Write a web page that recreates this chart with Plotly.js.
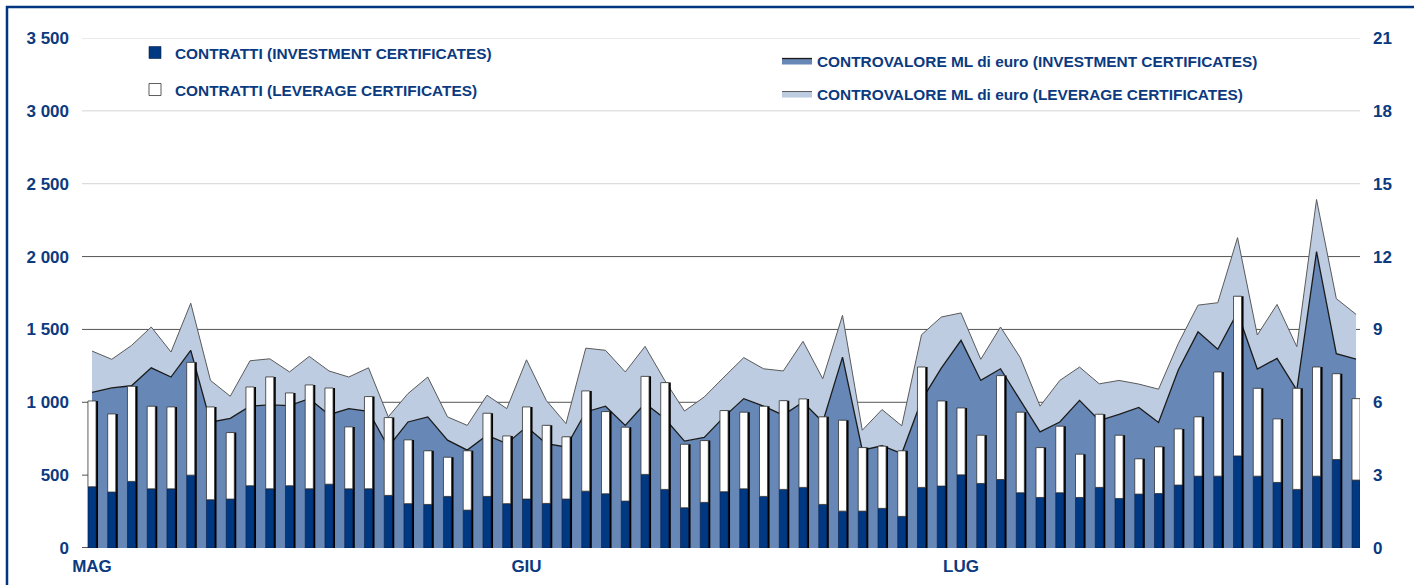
<!DOCTYPE html>
<html>
<head>
<meta charset="utf-8">
<script src="https://cdn.plot.ly/plotly-3.0.1.min.js"></script>
<style>
  html, body { margin: 0; padding: 0; background: #ffffff; }
  #chart { width: 1414px; height: 585px; }
</style>
</head>
<body>
<div id="chart"></div>
<script>
// ---- DATA ----
const monthLabels = ['MAG', 'GIU', 'LUG'];
const monthTickPos = [0, 22, 44];

// Contratti - investment certificates (left axis)
const contrattiInvestment = [
  420, 384, 457, 406, 406, 500, 331, 336, 427, 406, 427, 406, 438, 406, 406, 361, 304, 299, 354, 260, 354, 304,
  336, 306, 336, 390, 372, 322, 505, 402, 276, 313, 386, 406, 354, 402, 416, 299, 253, 253, 272, 217, 416, 425,
  502, 443, 470, 379, 347, 379, 347, 416, 340, 370, 374, 432, 493, 493, 632, 493, 450, 402, 493, 607, 466
];
// Contratti - leverage certificates (left axis, stacked on investment)
const contrattiLeverage = [
  589, 536, 653, 567, 562, 774, 637, 456, 678, 768, 637, 713, 660, 425, 633, 534, 438, 368, 269, 407, 571, 465,
  632, 536, 427, 688, 564, 507, 673, 733, 436, 424, 557, 526, 619, 609, 607, 601, 624, 436, 427, 450, 826, 584,
  459, 331, 713, 553, 342, 457, 297, 502, 434, 242, 320, 385, 407, 715, 1096, 603, 436, 694, 749, 589, 559
];
// Controvalore ML di euro - investment certificates (right axis)
const controvaloreInvestment = [
  6.41, 6.59, 6.68, 7.42, 7.04, 8.14, 5.18, 5.34, 5.84, 5.89, 5.86, 6.15, 5.49, 5.74, 5.63, 4.16, 5.19, 5.40, 4.44, 4.03, 4.64, 4.30,
  4.99, 4.30, 4.16, 5.60, 5.84, 5.05, 5.95, 5.33, 4.40, 4.55, 5.40, 6.15, 5.84, 5.47, 6.01, 5.19, 7.86, 4.03, 4.21, 3.89, 6.08, 7.41,
  8.55, 6.90, 7.38, 6.08, 4.78, 5.19, 6.08, 5.25, 5.50, 5.79, 5.17, 7.33, 8.90, 8.18, 9.70, 7.37, 7.81, 6.50, 12.20, 8.00, 7.78
];
// Controvalore ML di euro - leverage certificates (right axis, stacked)
const controvaloreLeverage = [
  1.70, 1.18, 1.66, 1.68, 1.03, 1.94, 1.72, 0.91, 1.87, 1.90, 1.39, 1.74, 1.80, 1.30, 1.79, 1.24, 1.17, 1.64, 0.96, 1.02, 1.65, 1.44,
  2.76, 1.78, 0.96, 2.63, 2.30, 2.20, 2.35, 1.57, 1.24, 1.67, 1.64, 1.69, 1.54, 1.82, 2.50, 1.78, 1.72, 0.82, 1.49, 1.14, 2.70, 2.10,
  1.13, 0.87, 1.72, 1.76, 1.06, 1.71, 1.37, 1.51, 1.40, 0.96, 1.37, 1.09, 1.10, 1.92, 3.08, 1.40, 2.22, 1.79, 2.15, 2.27, 1.84
];

const leftTickVals = [0, 500, 1000, 1500, 2000, 2500, 3000, 3500];
const leftTickText = ['0', '500', '1 000', '1 500', '2 000', '2 500', '3 000', '3 500'];
const rightTickVals = [0, 3, 6, 9, 12, 15, 18, 21];
const rightTickText = ['0', '3', '6', '9', '12', '15', '18', '21'];

const seriesNames = [
  'CONTRATTI (INVESTMENT CERTIFICATES)',
  'CONTRATTI (LEVERAGE CERTIFICATES)',
  'CONTROVALORE ML di euro (INVESTMENT CERTIFICATES)',
  'CONTROVALORE ML di euro (LEVERAGE CERTIFICATES)'
];

// ---- BUILD ----
const xs = contrattiInvestment.map((_, i) => i);
const contrattiTotal = contrattiInvestment.map((v, i) => v + contrattiLeverage[i]);

const navy = '#003882';
const textBlue = '#0b3a80';
const barW = 0.41;

const traces = [
  // stacked areas on main axis (right side, drawn below the bars)
  {
    type: 'scatter', mode: 'lines', x: xs, y: controvaloreInvestment, stackgroup: 'cv',
    name: seriesNames[2], legend: 'legend2', legendgroup: 'a1',
    line: { color: '#1a1a1a', width: 1.3 }, fillcolor: '#6788b6', hoverinfo: 'y'
  },
  {
    type: 'scatter', mode: 'lines', x: xs, y: controvaloreLeverage, stackgroup: 'cv',
    name: seriesNames[3], legend: 'legend2', legendgroup: 'a2',
    line: { color: '#5a5a5a', width: 1 }, fillcolor: '#bdcce0', hoverinfo: 'y'
  },
  // bar shadow
  {
    type: 'bar', x: xs, y: contrattiTotal, yaxis: 'y2', width: barW, offset: -barW / 2 + 0.1,
    marker: { color: '#000000', line: { width: 0 } }, showlegend: false, hoverinfo: 'skip'
  },
  {
    type: 'bar', x: xs, y: contrattiInvestment, yaxis: 'y2', width: barW, offset: -barW / 2,
    name: seriesNames[0], legend: 'legend', legendgroup: 'b1',
    marker: { color: navy, line: { color: '#0a1f44', width: 0.6 } }
  },
  {
    type: 'bar', x: xs, y: contrattiLeverage, base: contrattiInvestment, yaxis: 'y2', width: barW, offset: -barW / 2,
    name: seriesNames[1], legend: 'legend', legendgroup: 'b2',
    marker: { color: '#ffffff', line: { color: '#333333', width: 0.8 } }
  }
];

const shapes = leftTickVals.map(v => ({
  type: 'line', xref: 'paper', yref: 'y2', x0: 0, x1: 1, y0: v, y1: v, layer: 'below',
  line: { color: v === 0 ? '#222222' : (v > 2000 ? '#d4d4d4' : '#555555'), width: v === 0 ? 1.6 : 1 }
}));
// outer frame (left & top edges)
shapes.push({
  type: 'rect', xref: 'paper', yref: 'paper',
  x0: (7 - 82) / 1278, x1: 1.2, y0: -0.2, y1: 1 + (38 - 7) / 510,
  line: { color: '#003580', width: 2.5 }, fillcolor: 'rgba(0,0,0,0)', layer: 'above'
});

const tickFont = { family: 'Liberation Sans, Arial, sans-serif', size: 17, color: textBlue, weight: 'bold' };
const legendFont = { family: 'Liberation Sans, Arial, sans-serif', size: 15.4, color: textBlue, weight: 'bold' };

const layout = {
  width: 1414, height: 585,
  margin: { l: 82, r: 54, t: 38, b: 37 },
  paper_bgcolor: '#ffffff', plot_bgcolor: 'rgba(0,0,0,0)',
  barmode: 'overlay',
  showlegend: true,
  xaxis: {
    range: [-0.506, 64.2], tickvals: monthTickPos, ticktext: monthLabels,
    showgrid: false, zeroline: false, showline: false, ticks: '',
    tickfont: tickFont, ticklabelstandoff: 6
  },
  yaxis: {
    side: 'right', range: [0, 21], tickvals: rightTickVals, ticktext: rightTickText,
    showgrid: false, zeroline: false, showline: false, ticks: '',
    tickfont: tickFont, ticklabelstandoff: 12
  },
  yaxis2: {
    overlaying: 'y', side: 'left', range: [0, 3500], tickvals: leftTickVals, ticktext: leftTickText,
    showgrid: false, zeroline: false, showline: false, ticks: '',
    tickfont: tickFont, ticklabelstandoff: 12
  },
  legend: {
    x: (135 - 82) / 1278, y: 1 - (36 - 38) / 510, xanchor: 'left', yanchor: 'top',
    bgcolor: 'rgba(0,0,0,0)', font: legendFont, traceorder: 'grouped', tracegroupgap: 14
  },
  legend2: {
    x: (777 - 82) / 1278, y: 1 - (44 - 38) / 510, xanchor: 'left', yanchor: 'top',
    bgcolor: 'rgba(0,0,0,0)', font: legendFont, traceorder: 'grouped', tracegroupgap: 10
  },
  shapes: shapes
};

Plotly.newPlot('chart', traces, layout, { displayModeBar: false, staticPlot: true });
</script>
</body>
</html>
